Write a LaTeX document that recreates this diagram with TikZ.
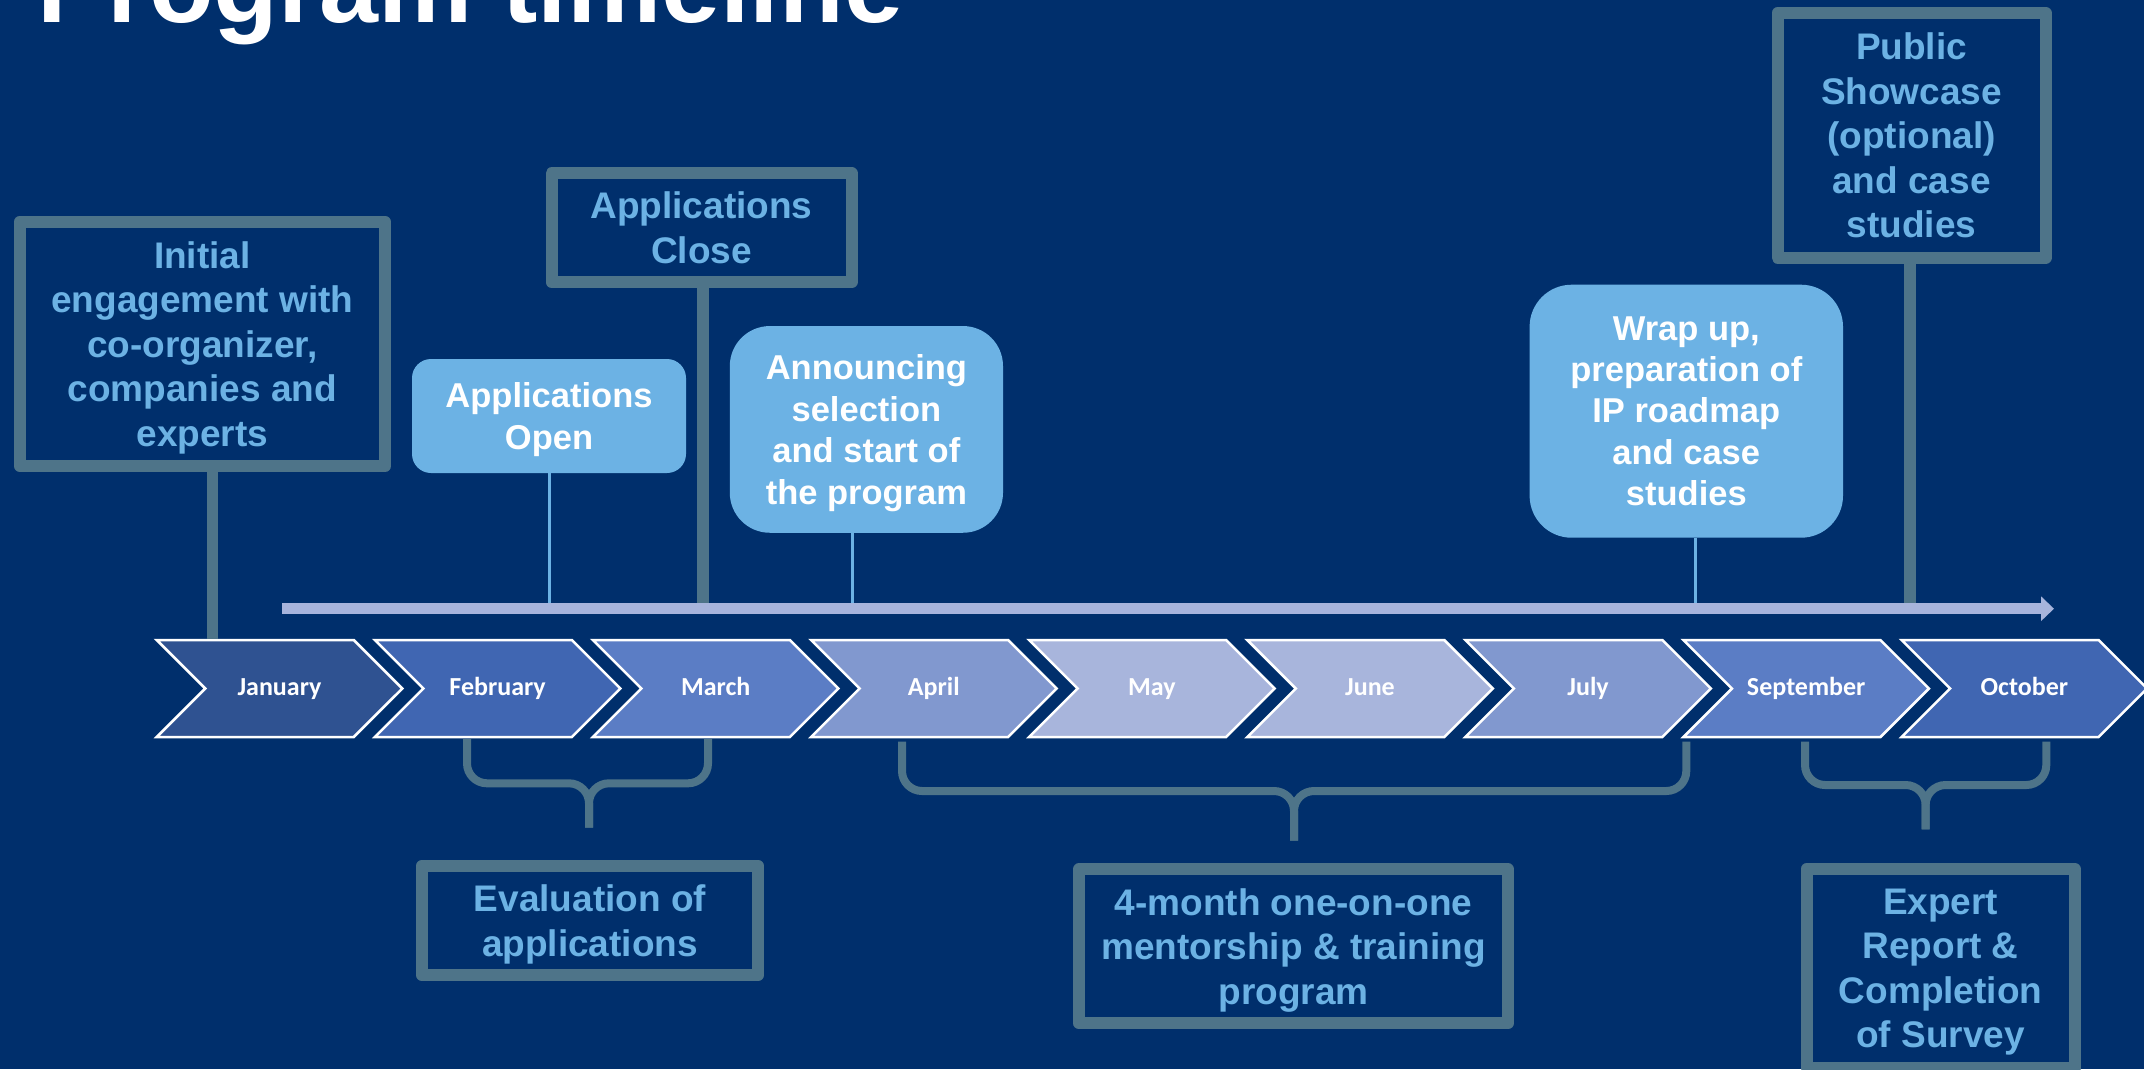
\documentclass[tikz,border=0pt]{standalone}
\usepackage{fontspec}
\setmainfont{Liberation Sans}
\newfontfamily\calfont{Carlito}
\usepackage{tikz}
\usetikzlibrary{positioning}
\usetikzlibrary{shapes.symbols}
\usetikzlibrary{arrows.meta}
\usepackage{xcolor}

\definecolor{navy}{HTML}{002F6C}
\definecolor{slate}{HTML}{4E7489}
\definecolor{sky}{HTML}{6CB2E4}
\definecolor{lilac}{HTML}{A7B4DC}
\definecolor{mon1}{HTML}{2F5291}
\definecolor{mon2}{HTML}{4066B2}
\definecolor{mon3}{HTML}{5B7DC5}
\definecolor{mon4}{HTML}{8198CF}
\definecolor{mon5}{HTML}{A8B5DC}

\tikzset{
	month/.style={signal, signal to=east, signal from=west, signal pointer angle=90,
		minimum width=245.5pt, minimum height=97pt, inner sep=0pt,
		text height=18pt, text depth=4pt,
		draw=white, line width=2.5pt, text=white,
		font=\calfont\bfseries\fontsize{26}{31}\selectfont},
	outlined/.style={draw=slate, line width=12pt, line join=round, text=sky,
		align=center, inner sep=0pt, font=\bfseries\fontsize{37}{44.5}\selectfont},
	bubble/.style={fill=sky, text=white, align=center, inner sep=0pt,
		font=\bfseries\fontsize{34.5}{41.4}\selectfont},
	pole/.style={draw=slate, line width=11.5pt},
	thinpole/.style={draw=sky, line width=3pt},
	curly/.style={draw=slate, line width=8pt, rounded corners=20pt},
	timeline/.style={draw=lilac, line width=11pt, -{Triangle[length=13pt,width=24pt]}}
}

\begin{document}
\begin{tikzpicture}[x=1pt, y=-1pt, on grid, node distance=218.1pt]
	\path[use as bounding box, fill=navy] (0,0) rectangle (2144,1069);
	\clip (0,0) rectangle (2144,1069);

	\node[anchor=base west, inner sep=0pt, text=white, font=\bfseries\fontsize{106}{120}\selectfont](title) at (37,22.7){Program timeline};

	% months
	\node[month, fill=mon1](jan) at (279.5,688.5){January};
	\node[month, fill=mon2, right=of jan](feb){February};
	\node[month, fill=mon3, right=of feb](mar){March};
	\node[month, fill=mon4, right=of mar](apr){April};
	\node[month, fill=mon5, right=of apr](may){May};
	\node[month, fill=mon5, right=of may](jun){June};
	\node[month, fill=mon4, right=of jun](jul){July};
	\node[month, fill=mon3, right=of jul](sep){September};
	\node[month, fill=mon2, right=of sep](oct){October};

	% milestones above the line
	\node[outlined, minimum width=365.2pt, minimum height=244.3pt](engage) at (202.4,343.9){Initial\\engagement with\\co-organizer,\\companies and\\\smash{experts}};
	\node[bubble, minimum width=274pt, minimum height=114pt, rounded corners=19pt](open) at (549,416){Applications\\\smash{Open}};
	\node[outlined, minimum width=300pt, minimum height=109pt](close) at (701.5,227.8){Applications\\Close};
	\node[bubble, minimum width=273.2pt, minimum height=206.7pt, rounded corners=40pt](announce) at (866.4,429.4){Announcing\\selection\\and start of\\\smash{the program}};
	\node[bubble, minimum width=313.4pt, minimum height=253pt, rounded corners=42pt](wrap) at (1686.3,411.2){Wrap up,\\preparation of\\IP roadmap\\and case\\studies};
	\node[outlined, minimum width=268pt, minimum height=244.7pt](showcase) at (1911.5,135.3){Public\\Showcase\\(optional)\\and case\\studies};

	\coordinate (tl start) at (282,608.7);
	\coordinate (tl end) at (2054,608.7);

	\draw[pole] ([xshift=10pt]engage.south) -- ([xshift=10pt]engage.south |- jan.north);
	\draw[pole] ([xshift=1.5pt]close.south) -- ([xshift=1.5pt]close.south |- tl start);
	\draw[pole] ([xshift=-1.5pt]showcase.south) -- ([xshift=-1.5pt]showcase.south |- tl start);
	\draw[thinpole] (open.south) -- (open.south |- tl start);
	\draw[thinpole] ([xshift=-14pt]announce.south) -- ([xshift=-14pt]announce.south |- tl start);
	\draw[thinpole] ([xshift=9.4pt]wrap.south) -- ([xshift=9.4pt]wrap.south |- tl start);

	\draw[timeline] (tl start) -- (tl end);

	% phases below the months
	\draw[curly] (467,739) -- (467,783.3) -- (589,783.3) -- (589,827.7);
	\draw[curly] (708,739) -- (708,783.3) -- (589,783.3) -- (589,827.7);
	\draw[curly] (902,741.7) -- (902,791) -- (1294,791) -- (1294,840.7);
	\draw[curly] (1686.3,741.7) -- (1686.3,791) -- (1294,791) -- (1294,840.7);
	\draw[curly] (1805,741.7) -- (1805,785) -- (1925.6,785) -- (1925.6,829.3);
	\draw[curly] (2046.3,741.7) -- (2046.3,785) -- (1925.6,785) -- (1925.6,829.3);

	\node[outlined, minimum width=336.5pt, minimum height=109pt](evaluation) at (590,920.5){Evaluation of\\\smash{applications}};
	\node[outlined, minimum width=429pt, minimum height=154pt](mentoring) at (1293.5,946.3){4-month one-on-one\\mentorship \& training\\\smash{program}};
	\node[outlined, minimum width=267.8pt, minimum height=199.3pt](report) at (1940.6,968.4){Expert\\Report \&\\Completion\\\smash{of Survey}};
\end{tikzpicture}
\end{document}
